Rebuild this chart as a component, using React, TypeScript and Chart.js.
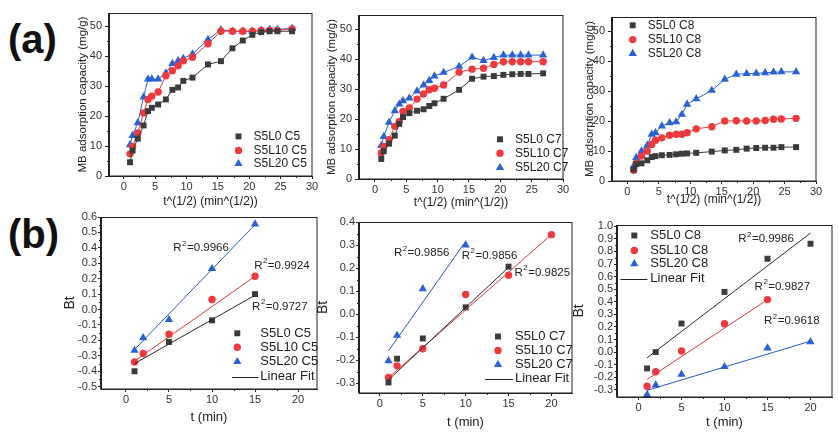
import React, { useEffect, useRef } from "react";
import { Chart, registerables } from "chart.js";

Chart.register(...registerables);

const FONT = "'Liberation Sans', Arial, Helvetica, sans-serif";

// ---------- data: (a) adsorption capacity vs t^(1/2) ----------
const SQRT_T = [1, 1.41, 2.24, 3.16, 3.87, 4.47, 5.48, 6.71, 7.75, 8.66, 9.49, 10.95, 13.42, 15.49, 17.32, 18.97, 20.49, 21.91, 23.24, 24.49, 26.83];

const C5_S5L0 = [4.6, 8.5, 12.5, 16.9, 21.7, 22.8, 23.9, 25.6, 28.8, 29.6, 31.8, 32.9, 37.3, 38.4, 42.7, 45.3, 47.2, 48.1, 48.4, 48.4, 48.4];
const C5_S5L10 = [7.4, 9.9, 14.4, 21.1, 25.6, 26.7, 28.1, 33.5, 35.2, 36.9, 38.5, 39.7, 44.2, 48.4, 48.4, 48.4, 48.4, 48.7, 48.7, 48.7, 49.2];
const C5_S5L20 = [10.4, 13.5, 17.8, 26.4, 32.4, 32.4, 32.4, 34.4, 37.6, 38.5, 39.3, 40.8, 45.6, 48.9, 48.4, 48.4, 48.4, 48.7, 49.0, 49.0, 49.4];

const C7_S5L0 = [6.7, 9.3, 11.8, 14.5, 18.4, 20.7, 22.0, 22.8, 23.3, 24.4, 25.3, 26.8, 29.8, 33.5, 34.2, 34.4, 34.8, 35.0, 35.1, 35.1, 35.3];
const C7_S5L10 = [8.7, 10.9, 13.1, 17.6, 19.2, 22.6, 23.7, 26.7, 28.4, 29.8, 30.3, 31.4, 35.7, 36.7, 37.0, 38.3, 39.2, 39.2, 39.2, 39.2, 39.2];
const C7_S5L20 = [11.2, 14.2, 18.9, 22.8, 25.0, 26.1, 27.0, 29.4, 31.4, 32.9, 34.4, 35.6, 37.6, 40.7, 39.6, 40.6, 41.4, 41.4, 41.4, 41.4, 41.4];

const C8_S5L0 = [3.9, 5.6, 5.9, 6.9, 8.0, 8.3, 8.6, 8.7, 8.9, 9.1, 9.2, 9.4, 9.8, 10.2, 10.4, 10.8, 11.0, 11.1, 11.1, 11.3, 11.3];
const C8_S5L10 = [3.6, 5.9, 8.3, 10.0, 12.2, 13.6, 14.4, 15.3, 15.6, 15.6, 16.1, 17.4, 18.1, 20.0, 20.1, 20.0, 20.0, 20.2, 20.6, 20.7, 20.9];
const C8_S5L20 = [5.0, 7.8, 10.0, 11.9, 15.6, 16.1, 18.3, 19.4, 19.7, 22.2, 25.6, 27.4, 30.2, 33.9, 35.6, 35.8, 35.9, 36.1, 36.3, 36.4, 36.4];

// ---------- data: (b) Bt vs t ----------
const T_C5_S5L0 = [1, 5, 10, 15];
const BT_C5_S5L0 = [-0.40, -0.21, -0.07, 0.10];
const T_C5_S5L10 = [1, 2, 5, 10, 15];
const BT_C5_S5L10 = [-0.34, -0.285, -0.16, 0.065, 0.216];
const T_C5_S5L20 = [1, 2, 5, 10, 15];
const BT_C5_S5L20 = [-0.265, -0.183, -0.065, 0.265, 0.554];
const FIT_T_C5 = [1, 15];
const FIT_C5_S5L0 = [-0.35, 0.093];
const FIT_C5_S5L10 = [-0.334, 0.216];
const FIT_C5_S5L20 = [-0.259, 0.55];
const R2_C5 = ["0.9966", "0.9924", "0.9727"];

const T_C7_S5L0 = [1, 2, 5, 10, 15];
const BT_C7_S5L0 = [-0.297, -0.194, -0.106, 0.029, 0.206];
const T_C7_S5L10 = [1, 2, 5, 10, 15, 20];
const BT_C7_S5L10 = [-0.275, -0.225, -0.151, 0.085, 0.169, 0.345];
const T_C7_S5L20 = [1, 2, 5, 10];
const BT_C7_S5L20 = [-0.203, -0.093, 0.11, 0.30];
const FIT_T_C7_S5L0 = [1, 15];
const FIT_C7_S5L0 = [-0.286, 0.203];
const FIT_T_C7_S5L10 = [1, 20];
const FIT_C7_S5L10 = [-0.276, 0.345];
const FIT_T_C7_S5L20 = [1, 10];
const FIT_C7_S5L20 = [-0.16, 0.316];
const R2_C7 = ["0.9856", "0.9856", "0.9825"];

const T_C8_S5L0 = [1, 2, 5, 10, 15, 20];
const BT_C8_S5L0 = [-0.13, 0.0, 0.227, 0.478, 0.742, 0.861];
const T_C8_S5L10 = [1, 2, 5, 10, 15];
const BT_C8_S5L10 = [-0.272, -0.156, 0.008, 0.225, 0.417];
const T_C8_S5L20 = [1, 2, 5, 10, 15, 20];
const BT_C8_S5L20 = [-0.338, -0.262, -0.177, -0.116, 0.032, 0.082];
const FIT_T_C8_S5L0 = [1, 20];
const FIT_C8_S5L0 = [-0.045, 0.946];
const FIT_T_C8_S5L10 = [1, 15];
const FIT_C8_S5L10 = [-0.217, 0.417];
const FIT_T_C8_S5L20 = [1, 20];
const FIT_C8_S5L20 = [-0.304, 0.087];
const R2_C8 = ["0.9986", "0.9827", "0.9618"];

// ---------- ticks and tick labels ----------
const TOP_X_TICKS = [0, 5, 10, 15, 20, 25, 30];
const TOP_X_LABELS = ["0", "5", "10", "15", "20", "25", "30"];
const TOP_Y_TICKS = [0, 10, 20, 30, 40, 50];
const TOP_Y_LABELS = ["0", "10", "20", "30", "40", "50"];
const BOT_X_TICKS = [0, 5, 10, 15, 20];
const BOT_X_LABELS = ["0", "5", "10", "15", "20"];
const C5_Y_TICKS = [-0.5, -0.4, -0.3, -0.2, -0.1, 0, 0.1, 0.2, 0.3, 0.4, 0.5, 0.6];
const C5_Y_LABELS = ["-0.5", "-0.4", "-0.3", "-0.2", "-0.1", "0.0", "0.1", "0.2", "0.3", "0.4", "0.5", "0.6"];
const C7_Y_TICKS = [-0.3, -0.2, -0.1, 0, 0.1, 0.2, 0.3, 0.4];
const C7_Y_LABELS = ["-0.3", "-0.2", "-0.1", "0.0", "0.1", "0.2", "0.3", "0.4"];
const C8_Y_TICKS = [-0.3, -0.2, -0.1, 0, 0.1, 0.2, 0.3, 0.4, 0.5, 0.6, 0.7, 0.8, 0.9, 1.0];
const C8_Y_LABELS = ["-0.3", "-0.2", "-0.1", "0.0", "0.1", "0.2", "0.3", "0.4", "0.5", "0.6", "0.7", "0.8", "0.9", "1.0"];

const COLORS = ["#3b3b3b", "#ec3a3f", "#2a62d6"];
const FIT_COLORS = ["#2a2a2a", "#e0363a", "#2458c8"];
const SHAPES = ["rect", "circle", "triangle"];
const RADII = [4.2, 3.7, 4.8];

function pts(xs: number[], ys: number[]) {
  return xs.map((x, i) => ({ x, y: ys[i] }));
}

function drawSym(ctx: any, kind: number, x: number, y: number, r: number, color: string) {
  ctx.save();
  ctx.fillStyle = color;
  ctx.beginPath();
  if (kind === 0) {
    const s = r * Math.SQRT1_2;
    ctx.rect(x - s, y - s, 2 * s, 2 * s);
  } else if (kind === 1) {
    ctx.arc(x, y, r, 0, Math.PI * 2);
  } else {
    const side = (3 * r) / Math.sqrt(3);
    const h = (side * Math.sqrt(3)) / 2;
    ctx.moveTo(x, y - (2 * h) / 3);
    ctx.lineTo(x + side / 2, y + h / 3);
    ctx.lineTo(x - side / 2, y + h / 3);
    ctx.closePath();
  }
  ctx.fill();
  ctx.restore();
}

function Panel({ spec }: { spec: any }) {
  const ref = useRef<HTMLCanvasElement>(null);
  const [L, T, R, B] = spec.box;
  const cx = Math.round(spec.yTitleX - 14);
  const cy = Math.round(T - 12);
  const cw = Math.round(R + 16) - cx;
  const ch = Math.round(spec.xTitleY + 12) - cy;

  useEffect(() => {
    const padTop = Math.round(T) - cy;
    const padRight = cx + cw - Math.round(R);
    const yW = Math.round(L) - cx;
    const xH = cy + ch - Math.round(B);
    const yLH = spec.yTitleSize * 1.2;
    const xLH = spec.xTitleSize * 1.2;

    const datasets: any[] = [];
    spec.series.forEach((s: any, i: number) => {
      datasets.push({
        label: s.label,
        data: pts(s.xs, s.ys),
        showLine: !!s.line,
        borderColor: COLORS[i],
        borderWidth: 1,
        backgroundColor: COLORS[i],
        pointBackgroundColor: COLORS[i],
        pointBorderColor: COLORS[i],
        pointBorderWidth: 0,
        pointStyle: SHAPES[i],
        pointRadius: RADII[i],
        order: 1,
      });
    });
    (spec.fits || []).forEach((f: any, i: number) => {
      datasets.push({
        label: "Linear Fit " + i,
        data: pts(f.xs, f.ys),
        showLine: true,
        borderColor: FIT_COLORS[i],
        borderWidth: 1,
        pointRadius: 0,
        order: 0,
      });
    });

    const deco = {
      id: "deco",
      afterDraw(chart: any) {
        const ctx = chart.ctx;
        const a = chart.chartArea;
        ctx.save();
        ctx.strokeStyle = "#222";
        ctx.lineWidth = 1;
        ctx.strokeRect(a.left - 0.5, a.top + 0.5, a.right - a.left + 0.5, a.bottom - a.top - 0.5);
        // minor ticks (midway between major ticks), pointing outward
        const xs = chart.scales.x;
        const ys = chart.scales.y;
        ctx.beginPath();
        for (let i = 0; i < spec.xTicks.length - 1; i++) {
          const px = Math.round(xs.getPixelForValue((spec.xTicks[i] + spec.xTicks[i + 1]) / 2)) + 0.5;
          ctx.moveTo(px, a.bottom);
          ctx.lineTo(px, a.bottom + 2);
        }
        for (let i = 0; i < spec.yTicks.length - 1; i++) {
          const py = Math.round(ys.getPixelForValue((spec.yTicks[i] + spec.yTicks[i + 1]) / 2)) + 0.5;
          ctx.moveTo(a.left, py);
          ctx.lineTo(a.left - 2, py);
        }
        ctx.stroke();
        // legend
        const lg = spec.legend;
        ctx.font = `${lg.size}px ${FONT}`;
        ctx.textBaseline = "middle";
        ctx.fillStyle = "#222";
        spec.series.forEach((s: any, i: number) => {
          const y = a.top + lg.rows[i];
          drawSym(ctx, i, a.left + lg.symDx, y, RADII[i], COLORS[i]);
          ctx.fillStyle = "#222";
          ctx.fillText(s.label, a.left + lg.textDx, y);
        });
        if (lg.fit) {
          const y = a.top + lg.rows[3];
          ctx.strokeStyle = "#222";
          ctx.beginPath();
          ctx.moveTo(a.left + lg.line[0], Math.round(y) + 0.5);
          ctx.lineTo(a.left + lg.line[1], Math.round(y) + 0.5);
          ctx.stroke();
          ctx.fillText("Linear Fit", a.left + lg.textDx, y);
        }
        // R^2 notes
        (spec.notes || []).forEach((n: any) => {
          const x = xs.getPixelForValue(n.x);
          const y = ys.getPixelForValue(n.y);
          const fs = spec.noteSize;
          ctx.fillStyle = "#222";
          ctx.font = `${fs}px ${FONT}`;
          ctx.fillText("R", x, y);
          let w = ctx.measureText("R").width;
          ctx.font = `${fs * 0.68}px ${FONT}`;
          ctx.fillText("2", x + w + 0.5, y - fs * 0.38);
          w += ctx.measureText("2").width + 1;
          ctx.font = `${fs}px ${FONT}`;
          ctx.fillText("=" + n.text, x + w, y);
        });
        ctx.restore();
      },
    };

    const chart = new Chart(ref.current as HTMLCanvasElement, {
      type: "scatter",
      data: { datasets },
      plugins: [deco],
      options: {
        animation: false,
        responsive: false,
        devicePixelRatio: 1,
        layout: { padding: { top: padTop, right: padRight, left: 0, bottom: 0 } },
        plugins: { legend: { display: false }, tooltip: { enabled: false } },
        scales: {
          x: {
            type: "linear",
            min: spec.xMin,
            max: spec.xMax,
            afterBuildTicks: (s: any) => {
              s.ticks = spec.xTicks.map((v: number) => ({ value: v }));
            },
            afterFit: (s: any) => {
              s.height = xH;
              s.paddingLeft = 0;
              s.paddingRight = 0;
              s.paddingTop = 0;
              s.paddingBottom = 0;
            },
            grid: { drawOnChartArea: false, drawTicks: true, tickLength: 3, color: "#222" },
            border: { display: true, color: "#222", width: 1 },
            ticks: {
              autoSkip: false,
              maxRotation: 0,
              padding: 1,
              color: "#333",
              font: { family: FONT, size: spec.tickSize },
              callback: (_v: any, i: number) => spec.xLabels[i],
            },
            title: {
              display: true,
              text: spec.xTitle,
              color: "#222",
              font: { family: FONT, size: spec.xTitleSize, lineHeight: 1.2 },
              padding: { top: 0, bottom: 12 - xLH / 2 },
            },
          },
          y: {
            type: "linear",
            min: spec.yMin,
            max: spec.yMax,
            afterBuildTicks: (s: any) => {
              s.ticks = spec.yTicks.map((v: number) => ({ value: v }));
            },
            afterFit: (s: any) => {
              s.width = yW;
              s.paddingLeft = 0;
              s.paddingRight = 0;
              s.paddingTop = 0;
              s.paddingBottom = 0;
            },
            grid: { drawOnChartArea: false, drawTicks: true, tickLength: spec.yTickLen, color: "#222" },
            border: { display: true, color: "#222", width: 1 },
            ticks: {
              autoSkip: false,
              padding: spec.yTickPad,
              color: "#333",
              font: { family: FONT, size: spec.tickSize },
              callback: (_v: any, i: number) => spec.yLabels[i],
            },
            title: {
              display: true,
              text: spec.yTitle,
              color: "#222",
              font: { family: FONT, size: spec.yTitleSize, lineHeight: 1.2 },
              padding: { top: 14 - yLH / 2, bottom: 0 },
            },
          },
        },
      } as any,
    } as any);
    return () => chart.destroy();
  }, []);

  return (
    <canvas
      ref={ref}
      width={cw}
      height={ch}
      style={{ position: "absolute", left: cx, top: cy, width: cw, height: ch }}
    />
  );
}

const TOP_COMMON = {
  xMin: -2.4,
  xMax: 30,
  yMin: 0,
  xTicks: TOP_X_TICKS,
  xLabels: TOP_X_LABELS,
  yTicks: TOP_Y_TICKS,
  yLabels: TOP_Y_LABELS,
  tickSize: 11,
  yTickLen: 4,
  yTickPad: 3,
  xTitle: "t^(1/2) (min^(1/2))",
  yTitle: "MB adsorption capacity (mg/g)",
  xTitleSize: 12,
  yTitleSize: 11.5,
};

const BOT_COMMON = {
  xTicks: BOT_X_TICKS,
  xLabels: BOT_X_LABELS,
  tickSize: 11,
  yTickLen: 3,
  yTickPad: 1,
  xTitle: "t (min)",
  yTitle: "Bt",
  xTitleSize: 13,
  yTitleSize: 14,
  noteSize: 11.5,
};

const PANELS: any[] = [
  {
    ...TOP_COMMON,
    box: [108.5, 13.3, 312.3, 176],
    yTitleX: 83.3,
    xTitleY: 202,
    xMin: -2.35,
    yMax: 54.5,
    series: [
      { label: "S5L0 C5", xs: SQRT_T, ys: C5_S5L0, line: true },
      { label: "S5L10 C5", xs: SQRT_T, ys: C5_S5L10, line: true },
      { label: "S5L20 C5", xs: SQRT_T, ys: C5_S5L20, line: true },
    ],
    legend: { size: 12, symDx: 129.5, textDx: 144.5, rows: [123.4, 137.4, 150.7], fit: false },
  },
  {
    ...TOP_COMMON,
    box: [359, 15, 562.7, 179],
    yTitleX: 331.7,
    xTitleY: 203,
    xMin: -2.55,
    yMax: 54.8,
    series: [
      { label: "S5L0 C7", xs: SQRT_T, ys: C7_S5L0, line: true },
      { label: "S5L10 C7", xs: SQRT_T, ys: C7_S5L10, line: true },
      { label: "S5L20 C7", xs: SQRT_T, ys: C7_S5L20, line: true },
    ],
    legend: { size: 12, symDx: 141, textDx: 156, rows: [124.3, 138.3, 152.7], fit: false },
  },
  {
    ...TOP_COMMON,
    box: [612.3, 16.7, 816, 180.5],
    yTitleX: 590,
    xTitleY: 200,
    xMin: -2.45,
    yMax: 54.7,
    series: [
      { label: "S5L0 C8", xs: SQRT_T, ys: C8_S5L0, line: true },
      { label: "S5L10 C8", xs: SQRT_T, ys: C8_S5L10, line: true },
      { label: "S5L20 C8", xs: SQRT_T, ys: C8_S5L20, line: true },
    ],
    legend: { size: 12, symDx: 20.7, textDx: 35.7, rows: [8.3, 22.6, 36.6], fit: false },
  },
  {
    ...BOT_COMMON,
    box: [100.7, 217, 316.7, 389.3],
    yTitleX: 70,
    xTitleY: 417,
    xMin: -2.9,
    xMax: 22.2,
    yMin: -0.515,
    yMax: 0.6,
    yTicks: C5_Y_TICKS,
    yLabels: C5_Y_LABELS,
    series: [
      { label: "S5L0 C5", xs: T_C5_S5L0, ys: BT_C5_S5L0 },
      { label: "S5L10 C5", xs: T_C5_S5L10, ys: BT_C5_S5L10 },
      { label: "S5L20 C5", xs: T_C5_S5L20, ys: BT_C5_S5L20 },
    ],
    fits: [
      { xs: FIT_T_C5, ys: FIT_C5_S5L0 },
      { xs: FIT_T_C5, ys: FIT_C5_S5L10 },
      { xs: FIT_T_C5, ys: FIT_C5_S5L20 },
    ],
    notes: [
      { x: 5.5, y: 0.4, text: R2_C5[0] },
      { x: 14.9, y: 0.285, text: R2_C5[1] },
      { x: 14.66, y: 0.02, text: R2_C5[2] },
    ],
    legend: { size: 13, symDx: 136.3, textDx: 159.3, line: [131, 157.6], rows: [116.3, 130.3, 144.7, 159.7], fit: true },
  },
  {
    ...BOT_COMMON,
    box: [359, 222, 572.3, 392.7],
    yTitleX: 323.3,
    xTitleY: 422,
    xMin: -2.44,
    xMax: 22.4,
    yMin: -0.343,
    yMax: 0.4,
    yTicks: C7_Y_TICKS,
    yLabels: C7_Y_LABELS,
    series: [
      { label: "S5L0 C7", xs: T_C7_S5L0, ys: BT_C7_S5L0 },
      { label: "S5L10 C7", xs: T_C7_S5L10, ys: BT_C7_S5L10 },
      { label: "S5L20 C7", xs: T_C7_S5L20, ys: BT_C7_S5L20 },
    ],
    fits: [
      { xs: FIT_T_C7_S5L0, ys: FIT_C7_S5L0 },
      { xs: FIT_T_C7_S5L10, ys: FIT_C7_S5L10 },
      { xs: FIT_T_C7_S5L20, ys: FIT_C7_S5L20 },
    ],
    notes: [
      { x: 1.63, y: 0.265, text: R2_C7[0] },
      { x: 9.55, y: 0.255, text: R2_C7[1] },
      { x: 15.7, y: 0.18, text: R2_C7[2] },
    ],
    legend: { size: 13, symDx: 139, textDx: 156, line: [126, 154], rows: [114.5, 128.5, 142.5, 156.5], fit: true },
  },
  {
    ...BOT_COMMON,
    box: [616.7, 224.5, 831.7, 397.3],
    yTitleX: 579,
    xTitleY: 422,
    xMin: -2.5,
    xMax: 22.5,
    yMin: -0.357,
    yMax: 1.01,
    yTicks: C8_Y_TICKS,
    yLabels: C8_Y_LABELS,
    series: [
      { label: "S5L0 C8", xs: T_C8_S5L0, ys: BT_C8_S5L0 },
      { label: "S5L10 C8", xs: T_C8_S5L10, ys: BT_C8_S5L10 },
      { label: "S5L20 C8", xs: T_C8_S5L20, ys: BT_C8_S5L20 },
    ],
    fits: [
      { xs: FIT_T_C8_S5L0, ys: FIT_C8_S5L0 },
      { xs: FIT_T_C8_S5L10, ys: FIT_C8_S5L10 },
      { xs: FIT_T_C8_S5L20, ys: FIT_C8_S5L20 },
    ],
    notes: [
      { x: 11.6, y: 0.9, text: R2_C8[0] },
      { x: 13.5, y: 0.52, text: R2_C8[1] },
      { x: 14.6, y: 0.245, text: R2_C8[2] },
    ],
    legend: { size: 13, symDx: 17.3, textDx: 33.3, line: [3.3, 30.3], rows: [10.5, 25.5, 38.8, 53.8], fit: true },
  },
];

export default function App() {
  const label: React.CSSProperties = {
    position: "absolute",
    fontFamily: FONT,
    fontWeight: "bold",
    fontSize: 40,
    lineHeight: "40px",
    color: "#111",
  };
  return (
    <div
      style={{
        position: "fixed",
        left: 0,
        top: 0,
        width: 838,
        height: 435,
        background: "#fff",
        overflow: "hidden",
      }}
    >
      <div style={{ ...label, left: 8, top: 19 }}>(a)</div>
      <div style={{ ...label, left: 8, top: 214 }}>(b)</div>
      {PANELS.map((p, i) => (
        <Panel key={i} spec={p} />
      ))}
    </div>
  );
}
